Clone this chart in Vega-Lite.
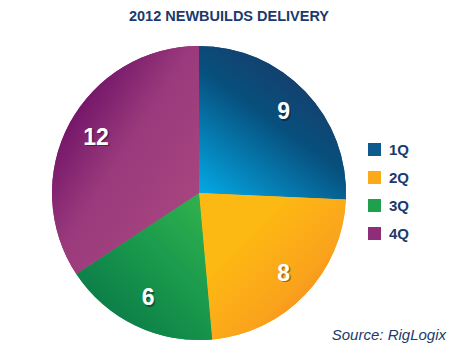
{
  "$schema": "https://vega.github.io/schema/vega-lite/v6.json",
  "autosize": "none",
  "width": 398,
  "height": 326,
  "padding": {"left": 0, "top": 30, "right": 52, "bottom": 4},
  "background": "white",
  "title": {
    "text": "2012 NEWBUILDS DELIVERY",
    "font": "Liberation Sans",
    "fontSize": 14.5,
    "fontWeight": "bold",
    "color": "#1b3a6b",
    "anchor": "middle",
    "dx": 30,
    "offset": 6
  },
  "data": {
    "values": [
      {"q": "1Q", "n": 9},
      {"q": "2Q", "n": 8},
      {"q": "3Q", "n": 6},
      {"q": "4Q", "n": 12}
    ]
  },
  "view": {"stroke": null},
  "layer": [
    {
      "mark": {"type": "arc", "radius": 147},
      "encoding": {
        "theta": {"field": "n", "type": "quantitative", "stack": true},
        "order": {"field": "q"},
        "color": {
          "field": "q",
          "type": "nominal",
          "scale": {"domain": ["1Q", "2Q", "3Q", "4Q"], "range": ["#0f5a8c", "#fbaa1a", "#1ea04c", "#8e2e78"]},
          "legend": {
            "title": null,
            "orient": "none",
            "legendX": 367,
            "legendY": 112,
            "symbolType": "square",
            "symbolSize": 169,
            "symbolStrokeWidth": 0,
            "labelFont": "Liberation Sans",
            "labelFontSize": 15,
            "labelFontWeight": "bold",
            "labelColor": "#1b3a6b",
            "labelOffset": 7,
            "rowPadding": 12
          }
        }
      }
    },
    {
      "mark": {"type": "arc", "radius": 147},
      "encoding": {
        "theta": {"field": "n", "type": "quantitative", "stack": true},
        "order": {"field": "q"},
        "fill": {
          "condition": [
            {"test": "datum.q === '1Q'", "value": {"gradient": "linear", "x1": 0.75, "y1": 0, "x2": 0.05, "y2": 1, "stops": [{"offset": 0, "color": "#1d3562"}, {"offset": 0.45, "color": "#07507e"}, {"offset": 1, "color": "#04aae6"}]}},
            {"test": "datum.q === '2Q'", "value": {"gradient": "linear", "x1": 0.3, "y1": 0.3, "x2": 1, "y2": 1, "stops": [{"offset": 0, "color": "#fdb913"}, {"offset": 0.5, "color": "#faa21c"}, {"offset": 1, "color": "#f06a22"}]}},
            {"test": "datum.q === '3Q'", "value": {"gradient": "linear", "x1": 1, "y1": 0, "x2": 0.2, "y2": 0.9, "stops": [{"offset": 0, "color": "#34b44c"}, {"offset": 0.5, "color": "#1a9a4c"}, {"offset": 1, "color": "#0a7a48"}]}}
          ],
          "value": {"gradient": "linear", "x1": 0.15, "y1": 0.15, "x2": 0.8, "y2": 0.8, "stops": [{"offset": 0, "color": "#6a0c64"}, {"offset": 0.5, "color": "#9a3a7c"}, {"offset": 1, "color": "#a6447f"}]}
        }
      }
    },
    {
      "mark": {"type": "text", "radius": 117, "dx": 1.5, "dy": 1.5, "font": "Liberation Sans", "fontSize": 23, "fontWeight": "bold", "color": "#000000", "opacity": 0.35},
      "encoding": {
        "theta": {"field": "n", "type": "quantitative", "stack": true},
        "order": {"field": "q"},
        "text": {"field": "n", "type": "quantitative"}
      }
    },
    {
      "mark": {"type": "text", "radius": 117, "font": "Liberation Sans", "fontSize": 23, "fontWeight": "bold", "color": "#ffffff"},
      "encoding": {
        "theta": {"field": "n", "type": "quantitative", "stack": true},
        "order": {"field": "q"},
        "text": {"field": "n", "type": "quantitative"}
      }
    },
    {
      "data": {"values": [{"source": "Source: RigLogix"}]},
      "mark": {"type": "text", "align": "right", "baseline": "alphabetic", "dx": 48, "dy": -16, "font": "Liberation Sans", "fontSize": 15, "fontStyle": "italic", "color": "#1b3a6b"},
      "encoding": {
        "text": {"field": "source"},
        "x": {"value": "width"},
        "y": {"value": "height"}
      }
    }
  ]
}
